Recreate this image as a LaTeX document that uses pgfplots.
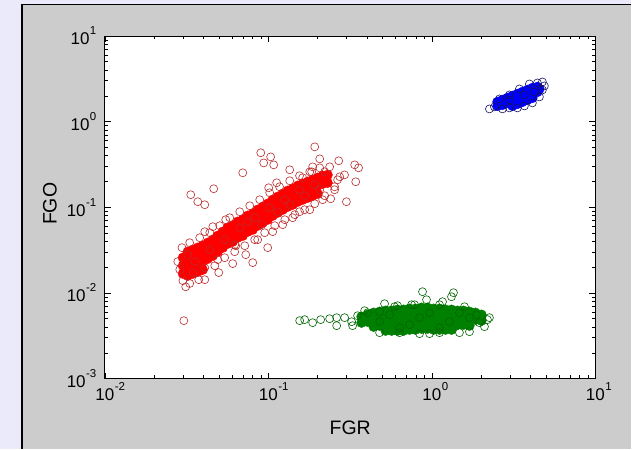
\documentclass[border=0pt]{standalone}
\usepackage{pgfplots}
\pgfplotsset{compat=1.18}
\usepackage{fontspec}
\setmainfont{Liberation Sans}
\definecolor{figgray}{RGB}{204,204,204}
\definecolor{lav}{RGB}{234,234,250}
\definecolor{mgreen}{RGB}{0,128,0}
\definecolor{dred}{RGB}{185,45,45}
\definecolor{dgreen}{RGB}{0,100,0}
\definecolor{dblue}{RGB}{20,20,90}
\newcommand\xl[1]{10\rlap{\kern0.5pt\raisebox{0.6em}{\fontsize{11.5}{11.5}\selectfont #1}}}
\newcommand\yl[1]{10\kern0.5pt\raisebox{0.6em}{\fontsize{11.5}{11.5}\selectfont #1}}
\begin{document}
\begin{tikzpicture}
\fill[lav] (0pt,0pt) rectangle (632pt,449pt);
\fill[figgray] (22pt,0pt) rectangle (632pt,444.5pt);
\draw[line width=1.2pt] (22pt,0pt) -- (22pt,444.5pt) -- (632pt,444.5pt);
\begin{axis}[at={(105pt,70pt)}, anchor=south west, scale only axis,
  width=491pt, height=343pt,
  xmode=log, ymode=log, xmin=0.01, xmax=10, ymin=0.001, ymax=10,
  axis background/.style={fill=white},
  axis line style={line width=0.8pt},
  every tick/.style={black, line width=0.6pt},
  major tick length=6pt, minor tick length=3.5pt,
  xtick={0.01,0.1,1,10}, xticklabels={\xl{-2},\xl{-1},\xl{0},\xl{1}},
  ytick={0.001,0.01,0.1,1,10}, yticklabels={\yl{-3},\yl{-2},\yl{-1},\yl{0},\yl{1}},
  tick label style={font=\fontsize{17}{17}\selectfont},
  yticklabel style={xshift=-5pt},
  xlabel={FGR}, ylabel={FGO},
  label style={font=\fontsize{19.5}{19.5}\selectfont},
  xlabel style={at={(axis description cs:0.5,-0.143)}, anchor=center},
  ylabel style={at={(axis description cs:-0.112,0.51)}, anchor=center},
]
% red dense core
\addplot[only marks, mark=*, mark size=4.9pt, mark options={fill=red, draw=red, line width=0.4pt}] coordinates {
(0.0300,0.0258) (0.0300,0.0208) (0.0300,0.0168)
(0.0321,0.0303) (0.0321,0.0245) (0.0321,0.0197) (0.0321,0.0159)
(0.0345,0.0320) (0.0345,0.0258) (0.0345,0.0208) (0.0345,0.0168)
(0.0370,0.0338) (0.0370,0.0272) (0.0370,0.0220) (0.0370,0.0177)
(0.0397,0.0356) (0.0397,0.0287) (0.0397,0.0232) (0.0397,0.0187)
(0.0426,0.0386) (0.0426,0.0311) (0.0426,0.0251)
(0.0457,0.0419) (0.0457,0.0338) (0.0457,0.0272)
(0.0490,0.0466) (0.0490,0.0376) (0.0490,0.0303)
(0.0526,0.0519) (0.0526,0.0419) (0.0526,0.0338)
(0.0564,0.0578) (0.0564,0.0466) (0.0564,0.0376)
(0.0605,0.0610) (0.0605,0.0492) (0.0605,0.0397)
(0.0649,0.0679) (0.0649,0.0548) (0.0649,0.0442)
(0.0697,0.0717) (0.0697,0.0578) (0.0697,0.0466)
(0.0747,0.0798) (0.0747,0.0644) (0.0747,0.0519)
(0.0802,0.0842) (0.0802,0.0679) (0.0802,0.0548)
(0.0860,0.0937) (0.0860,0.0756) (0.0860,0.0610)
(0.0923,0.1016) (0.0923,0.0820) (0.0923,0.0661)
(0.0990,0.1101) (0.0990,0.0888) (0.0990,0.0717)
(0.1062,0.1226) (0.1062,0.0989) (0.1062,0.0798)
(0.1140,0.1328) (0.1140,0.1072) (0.1140,0.0865)
(0.1223,0.1440) (0.1223,0.1162) (0.1223,0.0937)
(0.1312,0.1560) (0.1312,0.1259) (0.1312,0.1016)
(0.1407,0.1647) (0.1407,0.1328) (0.1407,0.1072)
(0.1510,0.1785) (0.1510,0.1440) (0.1510,0.1162)
(0.1620,0.1883) (0.1620,0.1519) (0.1620,0.1226)
(0.1738,0.1987) (0.1738,0.1603) (0.1738,0.1293)
(0.1865,0.2096) (0.1865,0.1691) (0.1865,0.1365)
(0.2000,0.2212) (0.2000,0.1785) (0.2000,0.1440)
(0.2146,0.2334) (0.2146,0.1883)
(0.2302,0.2390) (0.2302,0.1934)
};
% red open circles
\addplot[only marks, mark=o, mark size=4pt, mark options={draw=dred, line width=0.6pt}] coordinates {
(0.0898,0.433) (0.1032,0.388) (0.0936,0.330) (0.1077,0.313) (0.0697,0.2528)
(0.0463,0.1647) (0.0335,0.1402) (0.0370,0.1162) (0.0408,0.1072) (0.1004,0.1691)
(0.1124,0.1934) (0.0457,0.0594) (0.0990,0.0338) (0.0802,0.0226) (0.0497,0.0173)
(0.0375,0.0143) (0.0300,0.0139) (0.0304,0.00475) (0.0296,0.0338) (0.0605,0.0220)
(0.0345,0.0173) (0.192,0.508) (0.206,0.368) (0.2692,0.349) (0.337,0.313)
(0.356,0.289) (0.342,0.1987) (0.273,0.2272) (0.300,0.1162) (0.2404,0.1259)
(0.2146,0.1226) (0.179,0.0937) (0.1407,0.0756) (0.1062,0.0519) (0.1223,0.0627)
(0.1865,0.2968) (0.1839,0.2597) (0.254,0.1737) (0.265,0.2096)
(0.0330,0.0386) (0.0380,0.0442) (0.0438,0.0505) (0.0504,0.0610) (0.0580,0.0756)
(0.0668,0.0888) (0.0769,0.1043) (0.0885,0.1226) (0.1018,0.1479) (0.117,0.1737)
(0.135,0.2041) (0.155,0.2334) (0.179,0.2597) (0.206,0.289) (0.237,0.297)
(0.0330,0.0129) (0.0408,0.0143) (0.0470,0.0208) (0.0540,0.0258) (0.0622,0.0303)
(0.0717,0.0356) (0.0825,0.0419) (0.0949,0.0505) (0.1093,0.0610) (0.126,0.0717)
(0.145,0.0820) (0.1667,0.0937) (0.192,0.1101) (0.221,0.1365) (0.254,0.1603)
(0.0279,0.0232) (0.0287,0.0187) (0.0312,0.0118) (0.0727,0.0280) (0.0860,0.0419)
(0.155,0.0888) (0.135,0.274) (0.162,0.2212) (0.221,0.2597) (0.292,0.239)
(0.0408,0.0519) (0.0548,0.0717) (0.0490,0.0245) (0.0631,0.0356)
(0.0355,0.0232) (0.0438,0.0320) (0.0540,0.0419) (0.0668,0.0578) (0.0825,0.0756)
(0.1018,0.0989) (0.126,0.1226) (0.155,0.1603) (0.192,0.1833) (0.0408,0.0197)
(0.0622,0.0366) (0.0910,0.0627) (0.135,0.1072) (0.206,0.1603) (0.0321,0.0280)
(0.0747,0.0679) (0.1140,0.0888) (0.1667,0.1365)
};
% green dense core
\addplot[only marks, mark=*, mark size=4.9pt, mark options={fill=mgreen, draw=mgreen, line width=0.4pt}] coordinates {
(0.371,0.00529) (0.371,0.00450)
(0.404,0.00558) (0.404,0.00462)
(0.440,0.00588) (0.440,0.00488) (0.440,0.00404)
(0.479,0.00604) (0.479,0.00501) (0.479,0.00415)
(0.521,0.00621) (0.521,0.00515) (0.521,0.00426) (0.521,0.00363)
(0.567,0.00621) (0.567,0.00515) (0.567,0.00426) (0.567,0.00363)
(0.616,0.00638) (0.616,0.00529) (0.616,0.00438) (0.616,0.00363)
(0.671,0.00638) (0.671,0.00529) (0.671,0.00438) (0.671,0.00363)
(0.730,0.00655) (0.730,0.00543) (0.730,0.00450) (0.730,0.00373)
(0.794,0.00655) (0.794,0.00543) (0.794,0.00450) (0.794,0.00373)
(0.864,0.00673) (0.864,0.00558) (0.864,0.00462) (0.864,0.00383)
(0.940,0.00673) (0.940,0.00558) (0.940,0.00462) (0.940,0.00383)
(1.023,0.00655) (1.023,0.00543) (1.023,0.00450) (1.023,0.00373)
(1.113,0.00655) (1.113,0.00543) (1.113,0.00450) (1.113,0.00373)
(1.211,0.00638) (1.211,0.00529) (1.211,0.00438) (1.211,0.00373)
(1.317,0.00638) (1.317,0.00529) (1.317,0.00438) (1.317,0.00373)
(1.433,0.00621) (1.433,0.00515) (1.433,0.00426)
(1.560,0.00621) (1.560,0.00515) (1.560,0.00426)
(1.697,0.00604) (1.697,0.00501) (1.697,0.00415)
(1.846,0.00588) (1.846,0.00488)
(2.009,0.00558) (2.009,0.00475)
};
% green open circles
\addplot[only marks, mark=o, mark size=4pt, mark options={draw=dgreen, line width=0.6pt}] coordinates {
(0.1553,0.00475) (0.1666,0.00488) (0.1865,0.00450) (0.2087,0.00488) (0.2368,0.00501)
(0.2614,0.00515) (0.2924,0.00515) (0.3228,0.00462) (0.2614,0.00415) (0.3273,0.00415)
(0.4043,0.00588) (0.5133,0.00749) (0.4785,0.00604) (0.3511,0.00543)
(0.8762,0.01034) (0.9268,0.00834) (1.161,0.00791) (1.317,0.00904) (1.355,0.01007)
(0.7505,0.00729) (0.6163,0.00710)
(1.954,0.00450) (2.096,0.00404) (1.873,0.00558) (1.697,0.00353) (2.186,0.00488) (2.248,0.00515)
(0.4785,0.00344) (0.6339,0.00344) (0.8400,0.00335) (1.1127,0.00344) (1.474,0.00344) (0.9668,0.00335)
(0.5908,0.00691) (0.7830,0.00729) (1.1127,0.00729) (1.582,0.00691) (0.3876,0.00621)
(0.551,0.00558) (0.730,0.00426) (0.966,0.00588) (1.28,0.00462) (1.697,0.00515)
(0.634,0.00393) (0.840,0.00515) (1.113,0.00393) (1.474,0.00588) (0.479,0.00462)
};
% blue dense core
\addplot[only marks, mark=*, mark size=4.9pt, mark options={fill=blue, draw=blue, line width=0.4pt}] coordinates {
(2.516,1.699) (2.516,1.526)
(2.700,1.793) (2.700,1.568)
(2.896,1.892) (2.896,1.655)
(3.108,1.997) (3.108,1.745) (3.108,1.526)
(3.334,2.107) (3.334,1.842) (3.334,1.611)
(3.576,2.223) (3.576,1.944) (3.576,1.699)
(3.837,2.346) (3.837,2.051) (3.837,1.793)
(4.117,2.475) (4.117,2.164) (4.117,1.892)
(4.417,2.543) (4.417,2.223)
(4.544,2.410)
};
% blue open circles
\addplot[only marks, mark=o, mark size=4pt, mark options={draw=dblue, line width=0.6pt}] coordinates {
(2.248,1.408) (2.413,1.486) (2.700,1.408) (2.980,1.446) (3.334,1.446)
(3.678,1.526) (4.117,1.655) (4.544,1.944) (4.739,2.346) (4.873,2.612)
(4.417,2.830) (3.947,2.755) (3.428,2.410) (2.980,2.051) (2.588,1.842) (4.739,2.908)
(2.980,1.793) (3.678,2.051) (4.235,2.223)
};
\end{axis}
\end{tikzpicture}
\end{document}
